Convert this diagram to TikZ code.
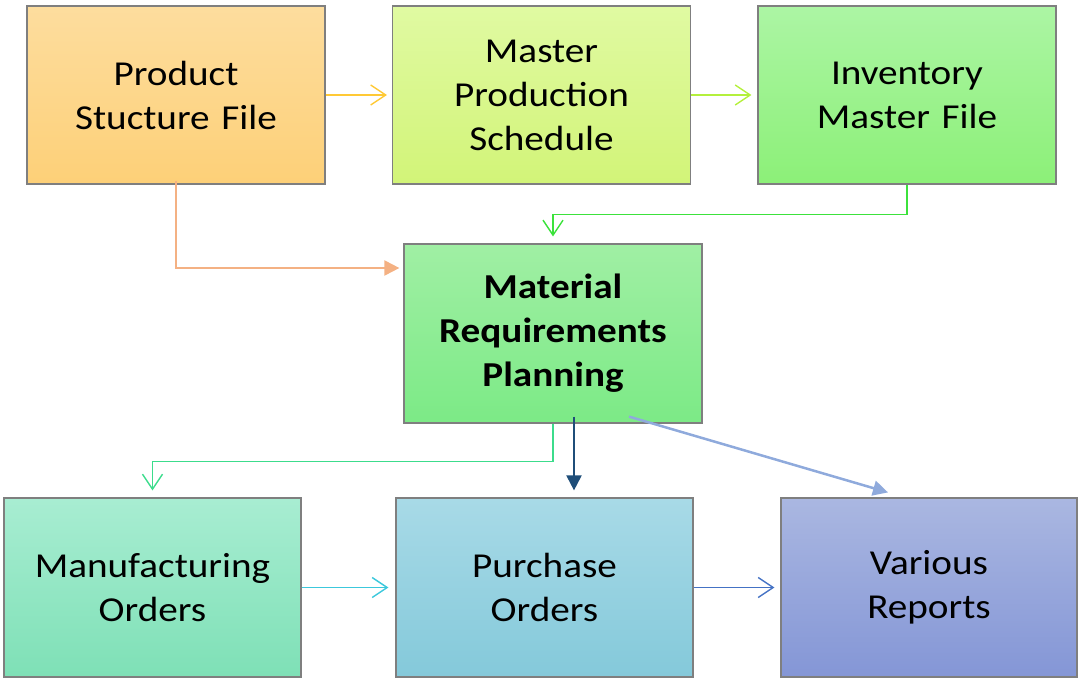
\documentclass[tikz,border=0pt]{standalone}
\usepackage{fontspec}
\setmainfont[FakeStretch=1.12]{Carlito}
\usetikzlibrary{arrows.meta,calc}
\definecolor{bord}{HTML}{7F7F7F}
\definecolor{c1t}{HTML}{FDDD9E}\definecolor{c1b}{HTML}{FDD078}
\definecolor{c2t}{HTML}{E0FAA2}\definecolor{c2b}{HTML}{D2F478}
\definecolor{c3t}{HTML}{ACF5A4}\definecolor{c3b}{HTML}{8CF078}
\definecolor{c4t}{HTML}{A0EFA4}\definecolor{c4b}{HTML}{7CEA86}
\definecolor{c5t}{HTML}{A8EDD2}\definecolor{c5b}{HTML}{7EE0B6}
\definecolor{c6t}{HTML}{A8DAE7}\definecolor{c6b}{HTML}{84C9DA}
\definecolor{c7t}{HTML}{AAB7E1}\definecolor{c7b}{HTML}{8496D6}
\definecolor{ayel}{HTML}{FFC935}
\definecolor{ayg}{HTML}{B4F03C}
\definecolor{agrn}{HTML}{3CE23C}
\definecolor{asal}{HTML}{F4B183}
\definecolor{amint}{HTML}{3CDC8C}
\definecolor{adb}{HTML}{1F4E79}
\definecolor{alb}{HTML}{8FAADC}
\definecolor{acyan}{HTML}{3CC8DC}
\definecolor{ablue}{HTML}{4472C4}
\tikzset{
  box/.style={draw=bord, line width=1.2pt, minimum width=298pt, minimum height=178pt,
    align=center, font=\fontsize{35}{44}\selectfont, inner sep=0pt, text width=290pt},
  openarr/.style={line width=1.4pt, -{Straight Barb[length=15pt,width=20pt,line width=1.4pt]}},
  fillarr/.style={-{Triangle[length=15pt,width=15pt]}},
}
\begin{document}
\begin{tikzpicture}[x=1pt,y=1pt]
\useasboundingbox (0,0) rectangle (1079,-679);
\node[box, top color=c1t, bottom color=c1b] (b1) at (176,-95) {Product\\Stucture File};
\node[box, top color=c2t, bottom color=c2b] (b2) at (541.5,-95) {Master\\Production\\Schedule};
\node[box, top color=c3t, bottom color=c3b] (b3) at (907,-95) {Inventory\\Master File};
\node[box, top color=c4t, bottom color=c4b, minimum height=179pt, font=\fontsize{35}{44}\selectfont\bfseries] (mrp) at (553,-333.5) {Material\\Requirements\\Planning};
\node[box, top color=c5t, bottom color=c5b, minimum width=297pt, minimum height=179pt] (man) at (152.5,-587.5) {Manufacturing\\Orders};
\node[box, top color=c6t, bottom color=c6b, minimum width=297pt, minimum height=179pt] (pur) at (544.5,-587.5) {Purchase\\Orders};
\node[box, top color=c7t, bottom color=c7b, minimum width=296pt, minimum height=179pt] (var) at (929,-587.5) {Various\\Reports};
% top row
\draw[openarr, draw=ayel, shorten >=5pt] (b1.east) -- (b2.west);
\draw[openarr, draw=ayg, shorten >=6pt] (b2.east) -- (b3.west);
\draw[openarr, draw=agrn, shorten >=7pt] (b3.south) -- ++(0,-30) -| (mrp.north);
\draw[fillarr, draw=asal, line width=2pt, shorten >=4pt]
  ([yshift=4pt]b1.south) |- ([yshift=65.5pt]mrp.west);
% bottom
\draw[openarr, draw=amint, shorten >=7pt] (mrp.south) -- ++(0,-38) -| (man.north);
\coordinate (s1) at ([xshift=21pt,yshift=7pt]mrp.south);
\draw[fillarr, draw=adb, line width=2pt, shorten >=7pt] (s1) -- (s1 |- pur.north);
\draw[fillarr, draw=alb, line width=2.5pt] ([xshift=76pt,yshift=7pt]mrp.south) -- ([xshift=-41pt,yshift=5pt]var.north);
\draw[openarr, draw=acyan, shorten >=7pt] (man.east) -- (pur.west);
\draw[openarr, draw=ablue, shorten >=6pt] (pur.east) -- (var.west);
\end{tikzpicture}
\end{document}
